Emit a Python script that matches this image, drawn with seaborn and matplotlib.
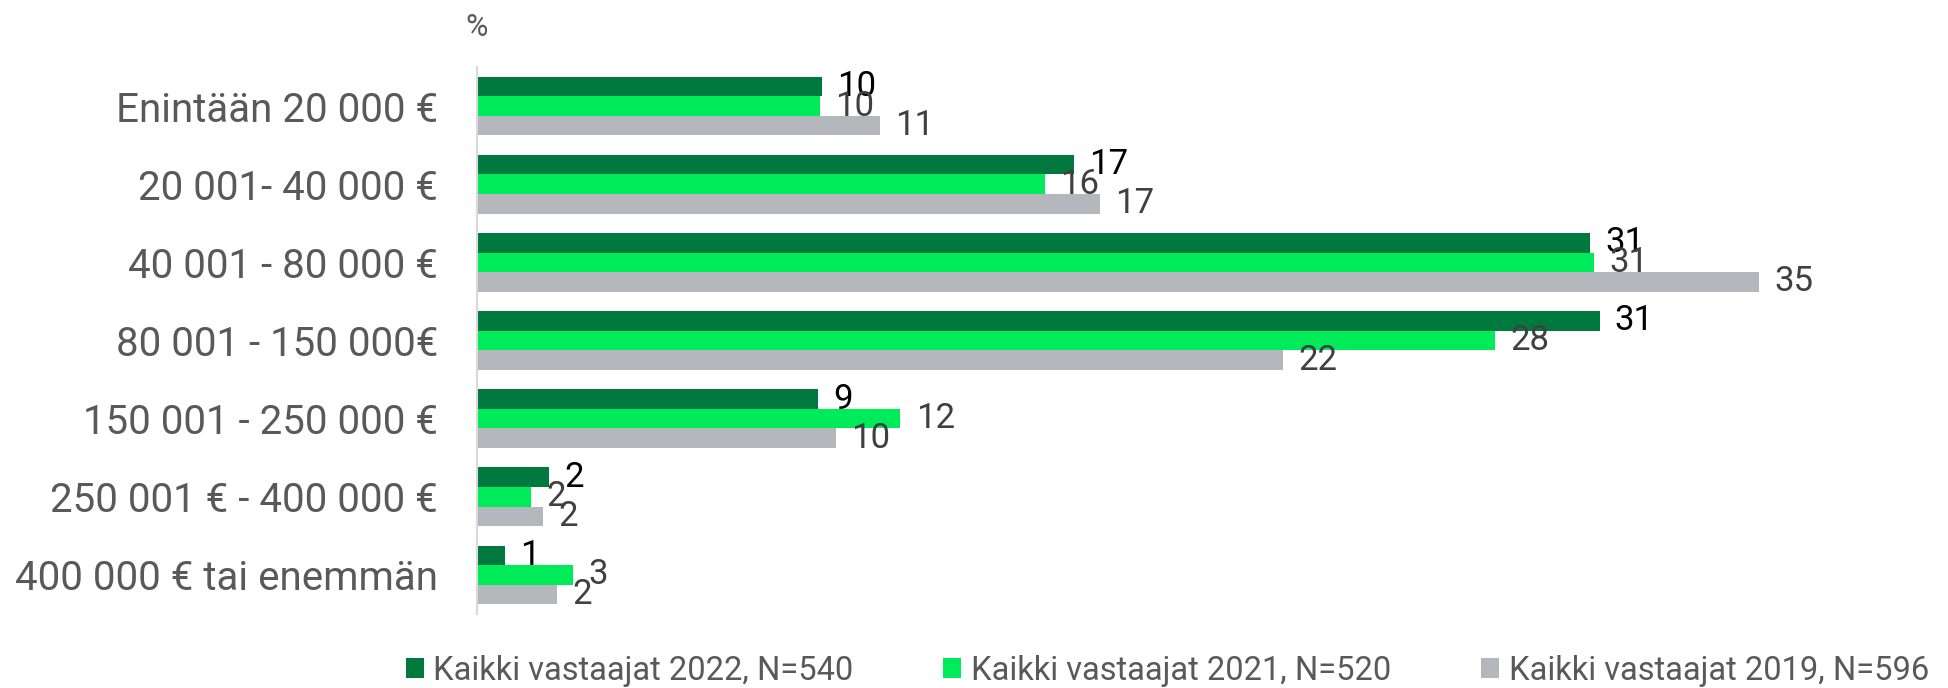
import pandas as pd
import matplotlib.pyplot as plt
import seaborn as sns
from matplotlib.patches import Patch

# ===================== DATA =====================
categories = [
    "Enintään 20 000 €",
    "20 001- 40 000 €",
    "40 001 - 80 000 €",
    "80 001 - 150 000€",
    "150 001 - 250 000 €",
    "250 001 € - 400 000 €",
    "400 000 € tai enemmän",
]
series_names = [
    "Kaikki vastaajat 2022, N=540",
    "Kaikki vastaajat 2021, N=520",
    "Kaikki vastaajat 2019, N=596",
]

# bar lengths, labels as printed in the chart
values_2022 = [9.42, 16.3, 30.4, 30.65, 9.31, 1.97, 0.76]
values_2021 = [9.37, 15.5, 30.5, 27.8, 11.56, 1.47, 2.62]
values_2019 = [11.0, 17.0, 35.0, 22.0, 9.8, 1.8, 2.2]

labels_2022 = [10, 17, 31, 31, 9, 2, 1]
labels_2021 = [10, 16, 31, 28, 12, 2, 3]
labels_2019 = [11, 17, 35, 22, 10, 2, 2]

colors = ["#00793F", "#00EB5A", "#B4B7BB"]
label_colors = ["#000000", "#404040", "#404040"]

# ===================== LONG TABLE =====================
frames = []
for name, vals in zip(series_names, [values_2022, values_2021, values_2019]):
    frames.append(pd.DataFrame({"Luokka": categories, "Sarja": name, "Osuus": vals}))
df = pd.concat(frames, ignore_index=True)

# ===================== PLOT =====================
sns.set_style("white")
plt.rcParams["font.family"] = ["Roboto", "DejaVu Sans"]

fig = plt.figure(figsize=(19.49, 6.88), dpi=100)
ax = fig.add_axes([0.2447, 0.1076, 0.7517, 0.795])

sns.barplot(
    data=df, x="Osuus", y="Luokka", hue="Sarja",
    order=categories, hue_order=series_names,
    palette=dict(zip(series_names, colors)), saturation=1,
    width=0.75, linewidth=0, orient="h", ax=ax, legend=False,
)

for cont, labs, col in zip(ax.containers, [labels_2022, labels_2021, labels_2019], label_colors):
    ax.bar_label(cont, labels=[str(v) for v in labs], padding=11,
                 fontsize=25, color=col)

ax.set_xlim(0, 40)
ax.set_ylim(6.5, -0.5)
ax.set_xlabel("")
ax.set_ylabel("")
ax.set_xticks([])
ax.tick_params(axis="y", length=0, pad=28, labelsize=29, labelcolor="#595959")

for s in ["top", "right", "bottom"]:
    ax.spines[s].set_visible(False)
ax.spines["left"].set_color("#D9D9D9")
ax.spines["left"].set_linewidth(1.5)

fig.text(0.2447, 0.96, "%", ha="center", va="center", fontsize=22, color="#595959")

handles = [Patch(facecolor=c, edgecolor="none") for c in colors]
fig.legend(handles, series_names, loc="center", bbox_to_anchor=(0.599, 0.025),
           ncol=3, frameon=False, fontsize=23.5, labelcolor="#595959",
           handlelength=0.55, handleheight=0.55, handletextpad=0.3,
           columnspacing=2.75)

plt.savefig("out.png", dpi=100)
